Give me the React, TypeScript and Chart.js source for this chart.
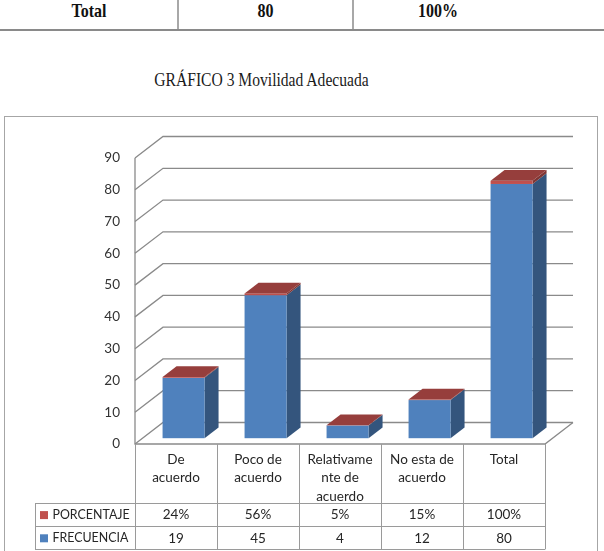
import { useEffect, useRef } from "react";
import { Chart, registerables } from "chart.js";

Chart.register(...registerables);

// Categories (wrapped the way the data table shows them)
const categories: string[][] = [
  ["De", "acuerdo"],
  ["Poco de", "acuerdo"],
  ["Relativame", "nte de", "acuerdo"],
  ["No esta de", "acuerdo"],
  ["Total"],
];
const frecuencia: number[] = [19, 45, 4, 12, 80];
const porcentaje: number[] = [0.24, 0.56, 0.05, 0.15, 1.0];
const yMin = 0;
const yMax = 90;
const yStep = 10;

const BLUE = "#4F81BD";
const RED = "#C0504D";

const FONT = "Lato, 'Open Sans', sans-serif";
const SERIF = "'Times New Roman', 'Liberation Serif', serif";

// depth of the 3D floor / back wall
const DX = 28;
const DY = -21.5;
const BAR_FRONT = 0.27;
const BAR_DEPTH = 0.5;

const HEADER_H = 59;
const ROW_H = 23.2;
const LEGEND_W = 100;

function shade(hex: string, f: number): string {
  const n = parseInt(hex.slice(1), 16);
  const r = Math.round(((n >> 16) & 255) * f);
  const g = Math.round(((n >> 8) & 255) * f);
  const b = Math.round((n & 255) * f);
  return `rgb(${r},${g},${b})`;
}

const pctText = (v: number) => `${Math.round(v * 100)}%`;

const excel3d = {
  id: "excel3d",
  beforeDatasetsDraw(chart: any) {
    const { ctx, chartArea: a, scales } = chart;
    const ys = scales.y;
    const xs = scales.x;
    ctx.save();

    // walls and floor
    ctx.strokeStyle = "#8a8a8a";
    ctx.lineWidth = 1.3;
    ys.ticks.forEach((t: any) => {
      const py = ys.getPixelForValue(t.value);
      ctx.beginPath();
      ctx.moveTo(a.left, py);
      ctx.lineTo(a.left + DX, py + DY);
      ctx.lineTo(a.right + DX, py + DY);
      ctx.stroke();
    });
    ctx.beginPath();
    ctx.moveTo(a.left, a.top);
    ctx.lineTo(a.left, a.bottom);
    ctx.lineTo(a.right, a.bottom);
    ctx.lineTo(a.right + DX, a.bottom + DY);
    ctx.stroke();

    // 3D stacked columns
    const metas = chart.data.datasets.map((_: any, i: number) => chart.getDatasetMeta(i));
    const fx = DX * BAR_FRONT;
    const fy = DY * BAR_FRONT;
    const bx = DX * BAR_DEPTH;
    const by = DY * BAR_DEPTH;
    const n = chart.data.labels.length;
    for (let i = 0; i < n; i++) {
      const segs = metas.map((m: any, di: number) => ({
        el: m.data[i].getProps(["x", "y", "base", "width"], true),
        color: chart.data.datasets[di].backgroundColor as string,
      }));
      segs.forEach(({ el, color }: any) => {
        const l = el.x - el.width / 2 + fx;
        const r = el.x + el.width / 2 + fx;
        const top = el.y + fy;
        const bot = el.base + fy;
        ctx.fillStyle = shade(color, 0.66);
        ctx.beginPath();
        ctx.moveTo(r, top);
        ctx.lineTo(r + bx, top + by);
        ctx.lineTo(r + bx, bot + by);
        ctx.lineTo(r, bot);
        ctx.closePath();
        ctx.fill();
        ctx.fillStyle = color;
        ctx.fillRect(l, top, r - l, bot - top);
      });
      const last = segs[segs.length - 1];
      const l = last.el.x - last.el.width / 2 + fx;
      const r = last.el.x + last.el.width / 2 + fx;
      const top = last.el.y + fy;
      ctx.fillStyle = shade(last.color, 0.78);
      ctx.beginPath();
      ctx.moveTo(l, top);
      ctx.lineTo(l + bx, top + by);
      ctx.lineTo(r + bx, top + by);
      ctx.lineTo(r, top);
      ctx.closePath();
      ctx.fill();
    }

    // data table under the plot
    const catW = (a.right - a.left) / n;
    const hdrB = a.bottom + HEADER_H;
    const r1B = hdrB + ROW_H;
    const r2B = r1B + ROW_H;
    const legL = a.left - LEGEND_W;
    ctx.strokeStyle = "#9a9a9a";
    ctx.lineWidth = 1;
    for (let k = 0; k <= n; k++) {
      const px = Math.round(a.left + k * catW) + 0.5;
      ctx.beginPath();
      ctx.moveTo(px, a.bottom);
      ctx.lineTo(px, r2B);
      ctx.stroke();
    }
    [hdrB, r1B, r2B].forEach((py) => {
      ctx.beginPath();
      ctx.moveTo(legL, Math.round(py) + 0.5);
      ctx.lineTo(a.right, Math.round(py) + 0.5);
      ctx.stroke();
    });
    ctx.beginPath();
    ctx.moveTo(legL + 0.5, hdrB);
    ctx.lineTo(legL + 0.5, r2B);
    ctx.stroke();

    ctx.fillStyle = "#262626";
    ctx.font = `13.5px ${FONT}`;
    ctx.textAlign = "center";
    ctx.textBaseline = "middle";
    (chart.data.labels as string[][]).forEach((lines, i) => {
      const cx = xs.getPixelForValue(i);
      lines.forEach((s, j) => ctx.fillText(s, cx, a.bottom + 15.5 + j * 18.5));
    });

    // table rows: top series first
    const rows = [
      { ds: chart.data.datasets[1], fmt: pctText, cy: (hdrB + r1B) / 2 + 0.5 },
      { ds: chart.data.datasets[0], fmt: (v: number) => String(v), cy: (r1B + r2B) / 2 + 0.5 },
    ];
    rows.forEach(({ ds, fmt, cy }) => {
      ctx.font = `13.5px ${FONT}`;
      ctx.textAlign = "center";
      ctx.fillStyle = "#262626";
      (ds.data as number[]).forEach((v, i) => ctx.fillText(fmt(v), xs.getPixelForValue(i), cy));
      ctx.fillStyle = ds.backgroundColor as string;
      ctx.fillRect(legL + 5, cy - 4, 8, 8);
      ctx.fillStyle = "#262626";
      ctx.textAlign = "left";
      ctx.font = `12.4px ${FONT}`;
      ctx.fillText(ds.label, legL + 17.5, cy);
    });

    ctx.restore();
    return false;
  },
};

function ChartCanvas() {
  const ref = useRef<HTMLCanvasElement | null>(null);
  useEffect(() => {
    if (!ref.current) return;
    const chart = new Chart(ref.current, {
      type: "bar",
      data: {
        labels: categories as any,
        datasets: [
          { label: "FRECUENCIA", data: frecuencia, backgroundColor: BLUE },
          { label: "PORCENTAJE", data: porcentaje, backgroundColor: RED },
        ],
      },
      options: {
        responsive: false,
        maintainAspectRatio: false,
        animation: false,
        layout: { padding: { left: 0, top: 158, right: 59, bottom: 107 } },
        datasets: { bar: { categoryPercentage: 1, barPercentage: 0.512 } },
        plugins: { legend: { display: false }, tooltip: { enabled: false }, title: { display: false } },
        scales: {
          x: { display: false, stacked: true },
          y: {
            stacked: true,
            min: yMin,
            max: yMax,
            grid: { display: false, drawTicks: false },
            border: { display: false },
            ticks: {
              stepSize: yStep,
              padding: 15,
              color: "#333333",
              font: { family: FONT, size: 13.5 },
            },
            afterFit: (s: any) => {
              s.width = 135;
            },
          },
        },
      },
      plugins: [excel3d],
    });
    return () => chart.destroy();
  }, []);
  return (
    <canvas
      ref={ref}
      width={604}
      height={551}
      style={{ position: "absolute", left: 0, top: 0, width: 604, height: 551 }}
    />
  );
}

const cellText: React.CSSProperties = {
  position: "absolute",
  top: 0,
  height: 22,
  lineHeight: "22px",
  fontFamily: SERIF,
  fontWeight: "bold",
  fontSize: 16,
  color: "#111",
  textAlign: "center",
  transform: "scaleY(1.18)",
};

export default function App() {
  return (
    <div
      style={{
        position: "fixed",
        left: 0,
        top: 0,
        width: 604,
        height: 551,
        overflow: "hidden",
        background: "#fff",
      }}
    >
      {/* summary row */}
      <div style={{ ...cellText, left: 0, width: 178 }}>Total</div>
      <div style={{ ...cellText, left: 178, width: 175 }}>80</div>
      <div style={{ ...cellText, left: 353, width: 170 }}>100%</div>
      <div style={{ position: "absolute", left: 177, top: 0, width: 1.5, height: 30, background: "#a8a8a8" }} />
      <div style={{ position: "absolute", left: 352, top: 0, width: 1.5, height: 30, background: "#a8a8a8" }} />
      <div style={{ position: "absolute", left: 0, top: 29, width: 604, height: 2, background: "#8a8a8a" }} />

      <div
        style={{
          position: "absolute",
          left: 0,
          width: 523,
          top: 70,
          height: 20,
          lineHeight: "20px",
          textAlign: "center",
          fontFamily: SERIF,
          fontSize: 15.6,
          color: "#1a1a1a",
          transform: "scaleY(1.18)",
        }}
      >
        GRÁFICO 3 Movilidad Adecuada
      </div>

      {/* chart frame */}
      <div
        style={{
          position: "absolute",
          left: 4,
          top: 116,
          width: 592,
          height: 480,
          border: "1.3px solid #a6a6a6",
        }}
      />
      <ChartCanvas />
    </div>
  );
}
